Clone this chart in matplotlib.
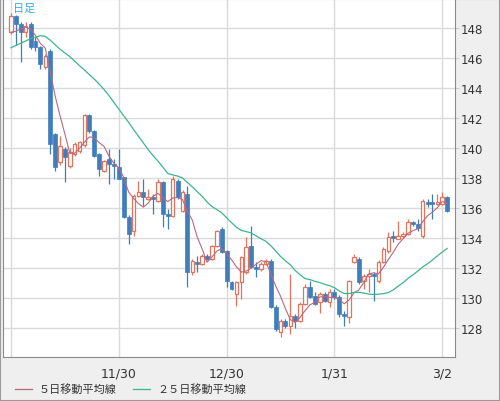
#Candlestick chart with 5 and 25 day moving averages
import numpy as np
import matplotlib
matplotlib.use("Agg")
import matplotlib.pyplot as plt
from matplotlib.lines import Line2D
from matplotlib.patches import Rectangle

plt.rcParams['font.family'] = ['DejaVu Sans', 'Noto Sans CJK JP']

#OHLC, one candle per trading day
opens = [147.73, 148.8, 148.27, 147.73, 148.27, 147.13, 146.73, 145.4, 146.47, 140.93,
         139.07, 139.93, 138.8, 139.6, 139.8, 140.2, 142.2, 141.13, 139.6, 138.47,
         139.27, 138.93, 138.73, 138.07, 135.4, 134.47, 136.8, 137.07, 136.6, 136.73,
         136.47, 137.73, 135.6, 135.47, 137.8, 135.8, 136.93, 131.73, 132.4, 132.27,
         132.8, 132.6, 133.47, 134.6, 133.13, 131.07, 130.27, 131.07, 131.73, 133.47,
         132.07, 131.93, 132.27, 132.47, 129.4, 127.73, 128.47, 128.13, 128.8, 128.47,
         129.6, 130.73, 130.13, 129.73, 130.27, 129.73, 130.4, 130.07, 128.93, 128.73,
         132.4, 132.6, 131.13, 131.47, 131.6, 131.13, 132.4, 133.13, 134.13, 133.93,
         134.13, 134.27, 135.07, 134.93, 134.13, 136.4, 136.4, 136.27, 136.27, 136.73]
highs = [149.0, 148.9, 148.4, 148.4, 148.4, 147.4, 146.8, 146.3, 146.6, 141.0,
         140.8, 140.1, 140.0, 140.4, 140.5, 142.3, 142.3, 141.2, 139.7, 139.2,
         139.93, 139.3, 139.93, 138.1, 135.5, 136.9, 137.8, 137.93, 137.27, 136.9,
         137.9, 137.8, 135.9, 138.13, 137.9, 137.2, 137.47, 132.6, 132.8, 132.9,
         132.9, 133.5, 134.5, 134.7, 133.2, 131.1, 131.1, 132.8, 134.07, 134.8,
         132.4, 132.4, 132.6, 132.6, 129.5, 128.6, 128.6, 131.6, 128.9, 129.7,
         130.9, 131.13, 130.4, 130.4, 130.4, 130.6, 130.6, 130.2, 129.13, 131.2,
         132.9, 132.7, 131.6, 131.93, 131.7, 132.5, 133.4, 134.4, 134.47, 135.13,
         134.4, 135.27, 135.1, 135.27, 136.6, 136.6, 136.93, 136.93, 137.07, 136.8]
lows = [147.6, 146.9, 145.73, 147.4, 146.6, 146.5, 145.27, 145.27, 139.6, 138.47,
        138.9, 137.73, 138.7, 139.5, 139.7, 140.1, 141.0, 139.4, 138.13, 138.4,
        137.6, 137.93, 137.9, 135.3, 133.6, 134.13, 136.7, 136.13, 136.5, 135.6,
        136.4, 134.73, 134.6, 135.4, 136.6, 135.7, 130.73, 131.5, 131.73, 132.2,
        132.5, 132.5, 133.4, 133.0, 130.73, 130.5, 129.47, 129.93, 131.6, 132.0,
        131.4, 131.8, 132.2, 129.3, 127.8, 127.4, 128.0, 127.6, 128.0, 128.4,
        129.5, 130.0, 129.5, 129.0, 129.7, 129.4, 129.9, 128.7, 128.13, 128.3,
        132.3, 130.9, 130.6, 130.4, 129.8, 131.0, 132.3, 133.0, 133.73, 133.9,
        134.0, 134.2, 134.8, 134.47, 134.0, 136.07, 135.27, 136.2, 136.2, 135.7]
closes = [148.8, 148.27, 147.73, 148.13, 146.73, 146.73, 145.6, 146.13, 140.27, 138.73,
          140.13, 139.4, 139.73, 140.27, 140.4, 142.2, 141.13, 139.47, 138.6, 139.13,
          138.93, 138.8, 137.93, 135.4, 134.27, 136.8, 137.07, 136.73, 136.73, 136.6,
          137.73, 135.6, 135.47, 137.93, 136.73, 137.07, 131.73, 132.47, 132.27, 132.8,
          132.6, 133.47, 134.47, 133.07, 131.13, 130.6, 131.07, 132.73, 133.4, 132.07,
          131.93, 132.27, 132.47, 129.4, 127.93, 128.47, 128.13, 128.8, 128.47, 129.6,
          130.73, 130.07, 129.6, 130.27, 129.8, 130.4, 130.07, 128.93, 128.8, 131.13,
          132.73, 131.07, 131.47, 131.6, 131.47, 132.4, 133.27, 134.07, 134.0, 134.13,
          134.27, 135.07, 134.93, 134.67, 136.47, 136.27, 136.27, 136.4, 136.73, 135.8]

#moving average values before enough candles are on screen
ma5_head = [147.73, 147.8, 147.95, 148.07]
ma25_head = [146.7, 146.85, 147.0, 147.15, 147.3, 147.4, 147.5, 147.45, 147.2, 146.9,
             146.6, 146.35, 146.1, 145.8, 145.5, 145.2, 144.9, 144.6, 144.27, 143.9,
             143.5, 143.05, 142.6, 142.15]

tick_pos = [0, 22, 44, 66, 88]
tick_labels = ['', '11/30', '12/30', '1/31', '3/2']
y_ticks = [128, 130, 132, 134, 136, 138, 140, 142, 144, 146, 148]

UP_COLOR = '#e2735c'
DOWN_COLOR = '#3f7dbd'
MA5_COLOR = '#b9697f'
MA25_COLOR = '#3db58c'

o = np.array(opens)
h = np.array(highs)
l = np.array(lows)
c = np.array(closes)
x = np.arange(len(c))

ma5 = np.concatenate([ma5_head, np.convolve(c, np.ones(5) / 5, 'valid')])
ma25 = np.concatenate([ma25_head, np.convolve(c, np.ones(25) / 25, 'valid')])

fig = plt.figure(figsize=(5, 4.02), dpi=100, facecolor='#efefef')
ax = fig.add_axes([3 / 500, 44 / 402, 452 / 500, 358 / 402])
ax.set_facecolor('white')

#wicks then bodies
up = c >= o
ax.vlines(x[up], l[up], h[up], color=UP_COLOR, lw=0.9, zorder=2)
ax.vlines(x[~up], l[~up], h[~up], color=DOWN_COLOR, lw=0.9, zorder=2)
body = np.maximum(np.abs(c - o), 0.06)
ax.bar(x[up], body[up], bottom=np.minimum(o, c)[up], width=0.72,
       facecolor='white', edgecolor=UP_COLOR, linewidth=0.9, zorder=3)
ax.bar(x[~up], body[~up], bottom=np.minimum(o, c)[~up], width=0.8,
       facecolor=DOWN_COLOR, edgecolor=DOWN_COLOR, linewidth=0.5, zorder=3)

ax.plot(x, ma5, color=MA5_COLOR, lw=0.8, zorder=4)
ax.plot(x, ma25, color=MA25_COLOR, lw=0.9, zorder=4)

ax.set_xlim(-1.63, 90.6)
ax.set_ylim(126.05, 149.95)
ax.set_xticks(tick_pos)
ax.set_xticklabels(tick_labels)
ax.set_yticks(y_ticks)
ax.yaxis.tick_right()
ax.grid(True, color='#dadada', lw=1)
ax.set_axisbelow(True)
ax.tick_params(axis='x', length=0, pad=7, labelsize=9, labelcolor='#333333')
ax.tick_params(axis='y', length=3, color='#cccccc', pad=1, labelsize=8.5, labelcolor='#333333')
for side in ['left', 'bottom', 'right', 'top']:
    ax.spines[side].set_color('#8a8a8a')
ax.spines['top'].set_visible(False)

ax.text(10 / 452, 1 - 4 / 358, '日足', transform=ax.transAxes, ha='left', va='top',
        fontsize=8, color='#35aee0', family=['Noto Sans CJK JP'])

#legend at the bottom
fig.add_artist(Line2D([15 / 500, 32 / 500], [12 / 402, 12 / 402], color=MA5_COLOR, lw=0.9))
fig.text(39 / 500, 12 / 402, '５日移動平均線', ha='left', va='center', fontsize=8,
         color='#333333', family=['Noto Sans CJK JP'])
fig.add_artist(Line2D([133 / 500, 150 / 500], [12 / 402, 12 / 402], color=MA25_COLOR, lw=0.9))
fig.text(157 / 500, 12 / 402, '２５日移動平均線', ha='left', va='center', fontsize=8,
         color='#333333', family=['Noto Sans CJK JP'])

fig.add_artist(Rectangle((0, 0), 1, 1, transform=fig.transFigure, fill=False,
                         edgecolor='#9a9a9a', lw=1.5))

fig.savefig('out.png', dpi=100, facecolor=fig.get_facecolor())
